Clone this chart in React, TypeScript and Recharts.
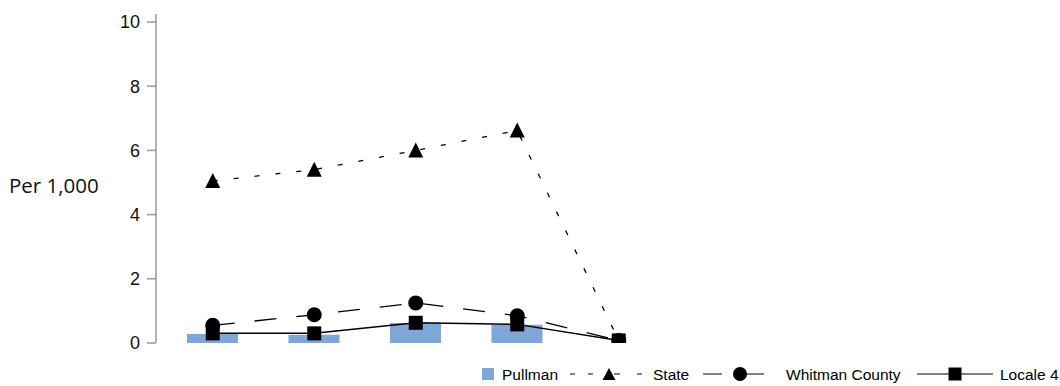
import React from 'react';
import { ComposedChart, Bar, Line, XAxis, YAxis, Legend } from 'recharts';

const categories = ['1', '2', '3', '4', '5', '6', '7', '8'];
const pullman = [0.28, 0.26, 0.62, 0.57, 0, null, null, null];
const stateVals = [5.05, 5.4, 6.0, 6.62, 0.08, null, null, null];
const whitman = [0.55, 0.88, 1.25, 0.85, 0.08, null, null, null];
const locale4 = [0.3, 0.3, 0.63, 0.58, 0.08, null, null, null];
const yTicks = [0, 2, 4, 6, 8, 10];

const data = categories.map((c, i) => ({
  cat: c,
  Pullman: pullman[i],
  State: stateVals[i],
  Whitman: whitman[i],
  Locale4: locale4[i],
}));

const BAR_COLOR = '#7EA6D9';

const Triangle = (p: any) => {
  const { cx, cy, value, index } = p;
  if (cx == null || cy == null || value == null) return <g key={`t${index}`} />;
  return <path key={`t${index}`} d={`M${cx},${cy - 8} L${cx + 7.5},${cy + 7} L${cx - 7.5},${cy + 7} Z`} fill="#000" />;
};
const Circle = (p: any) => {
  const { cx, cy, value, index } = p;
  if (cx == null || cy == null || value == null) return <g key={`c${index}`} />;
  return <circle key={`c${index}`} cx={cx} cy={cy} r={7.5} fill="#000" />;
};
const Square = (p: any) => {
  const { cx, cy, value, index } = p;
  if (cx == null || cy == null || value == null) return <g key={`s${index}`} />;
  return <rect key={`s${index}`} x={cx - 7} y={cy - 7} width={14} height={14} fill="#000" />;
};

const LegendContent = () => {
  const cy = 12;
  const font = '"Liberation Sans", Arial, sans-serif';
  const fs = 15.5;
  return (
    <svg width={1060} height={24} style={{ display: 'block' }}>
      <rect x={482} y={cy - 6} width={12} height={12} fill={BAR_COLOR} />
      <text x={502} y={cy + 6} fontFamily={font} fontSize={fs} fill="#000">Pullman</text>
      <line x1={570} x2={575} y1={cy} y2={cy} stroke="#000" strokeWidth={1} />
      <line x1={588} x2={593} y1={cy} y2={cy} stroke="#000" strokeWidth={1} />
      <line x1={614} x2={620} y1={cy} y2={cy} stroke="#000" strokeWidth={1} />
      <line x1={637} x2={642} y1={cy} y2={cy} stroke="#000" strokeWidth={1} />
      <path d={`M609,${cy - 6} L615.5,${cy + 6} L602.5,${cy + 6} Z`} fill="#000" />
      <text x={653} y={cy + 6} fontFamily={font} fontSize={fs} fill="#000">State</text>
      <line x1={703} x2={722} y1={cy} y2={cy} stroke="#000" strokeWidth={1} />
      <line x1={740} x2={764} y1={cy} y2={cy} stroke="#000" strokeWidth={1} />
      <circle cx={740} cy={cy} r={7} fill="#000" />
      <text x={786} y={cy + 6} fontFamily={font} fontSize={fs} fill="#000">Whitman County</text>
      <line x1={917} x2={993} y1={cy} y2={cy} stroke="#000" strokeWidth={1} />
      <rect x={948.5} y={cy - 6.5} width={13} height={13} fill="#000" />
      <text x={1000} y={cy + 6} fontFamily={font} fontSize={fs} fill="#000">Locale 4</text>
    </svg>
  );
};

const YLabel = () => (
  <text x={9} y={193} fontFamily='"Open Sans", sans-serif' fontSize={20.5} fill="#111">Per 1,000</text>
);

export default function App() {
  return (
    <div style={{ position: 'absolute', left: 0, top: 0, width: 1060, height: 386, background: '#fff' }}>
      <ComposedChart
        width={1060}
        height={386}
        data={data}
        margin={{ top: 14, right: 86, bottom: 43, left: 0 }}
        barCategoryGap={0}
      >
        <XAxis dataKey="cat" hide padding={{ left: 6, right: 0 }} />
        <YAxis
          width={156}
          domain={[0, 10]}
          ticks={yTicks}
          interval={0}
          allowDataOverflow
          padding={{ top: 8, bottom: 0 }}
          axisLine={{ stroke: '#999', strokeWidth: 1.5 }}
          tickLine={{ stroke: '#999', strokeWidth: 1.5 }}
          tickSize={9}
          tickMargin={7}
          tick={{ fill: '#111', fontSize: 18, fontFamily: '"Liberation Sans", Arial, sans-serif' }}
          label={<YLabel />}
        />
        <Bar dataKey="Pullman" fill={BAR_COLOR} barSize={51} isAnimationActive={false} />
        <Line dataKey="State" stroke="#000" strokeWidth={1.3} strokeDasharray="5 16" dot={Triangle} activeDot={false} isAnimationActive={false} connectNulls={false} />
        <Line dataKey="Whitman" stroke="#000" strokeWidth={1.3} strokeDasharray="22 20" dot={Circle} activeDot={false} isAnimationActive={false} />
        <Line dataKey="Locale4" stroke="#000" strokeWidth={1.5} dot={Square} activeDot={false} isAnimationActive={false} />
        <Legend
          verticalAlign="middle"
          align="center"
          layout="horizontal"
          content={<LegendContent />}
          wrapperStyle={{ top: 362, left: 0, width: 1060, height: 24 }}
        />
      </ComposedChart>
    </div>
  );
}
